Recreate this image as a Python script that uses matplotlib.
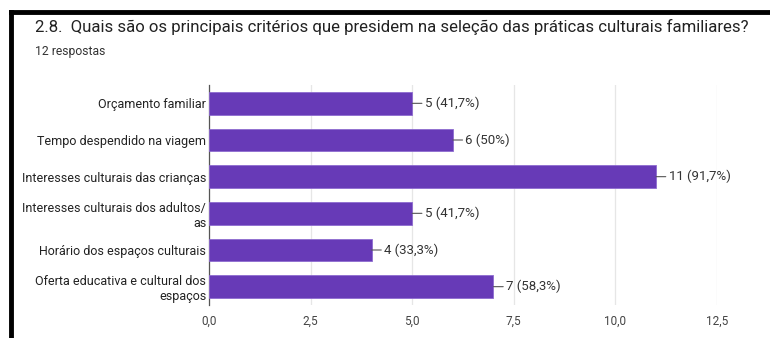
import matplotlib
matplotlib.use("Agg")
from matplotlib import pyplot as plt
from matplotlib.lines import Line2D
from matplotlib.ticker import FuncFormatter

plt.rcParams["font.family"] = ["Roboto", "DejaVu Sans"]

title = "2.8.  Quais são os principais critérios que presidem na seleção das práticas culturais familiares?"
subtitle = "12 respostas"
categories = [
    "Orçamento familiar",
    "Tempo despendido na viagem",
    "Interesses culturais das crianças",
    "Interesses culturais dos adultos/\nas",
    "Horário dos espaços culturais",
    "Oferta educativa e cultural dos\nespaços",
]
counts = [5, 6, 11, 5, 4, 7]
labels = ["5 (41,7%)", "6 (50%)", "11 (91,7%)", "5 (41,7%)", "4 (33,3%)", "7 (58,3%)"]
ticks = [0, 2.5, 5, 7.5, 10, 12.5]

fig = plt.figure(figsize=(7.7, 3.38), dpi=100)
ax = fig.add_axes([209 / 770, 1 - 305 / 338, (717 - 209) / 770, (305 - 85) / 338])

y = list(range(len(categories)))
ax.barh(y, counts, height=0.62, color="#673ab7", edgecolor="#8e6bd0", linewidth=0.6, zorder=3)
ax.set_ylim(len(categories) - 0.5, -0.5)
ax.set_xlim(0, 12.5)
ax.set_xticks(ticks)
ax.xaxis.set_major_formatter(FuncFormatter(lambda v, p: f"{v:.1f}".replace(".", ",")))
ax.set_yticks(y)
ax.set_yticklabels(categories, fontsize=9, color="#222222")
ax.tick_params(axis="x", length=0, labelsize=8.5, labelcolor="#444444", pad=7)
ax.tick_params(axis="y", length=0, pad=2)
ax.grid(axis="x", color="#e6e6e6", linewidth=0.9, zorder=0)
for s in ["top", "right", "bottom"]:
    ax.spines[s].set_visible(False)
ax.spines["left"].set_color("#555555")
ax.spines["left"].set_linewidth(0.9)

for yi, c, lab in zip(y, counts, labels):
    ax.annotate(lab, xy=(c, yi), xytext=(9, 0), textcoords="offset points",
                va="center", ha="left", fontsize=9.5, color="#333333",
                arrowprops=dict(arrowstyle="-", color="#555555", lw=0.8,
                                shrinkA=0, shrinkB=0))

fig.text(35 / 770, 1 - 27 / 338, title, fontsize=12.1, color="#222222", va="center")
fig.text(35 / 770, 1 - 52 / 338, subtitle, fontsize=8.7, color="#333333", va="center")

# black frame of the screenshot
fig.add_artist(Line2D([10.5 / 770, 10.5 / 770], [0, 1 - 12 / 338], transform=fig.transFigure, color="black", lw=3.5))
fig.add_artist(Line2D([10.5 / 770, 1], [1 - 12 / 338, 1 - 12 / 338], transform=fig.transFigure, color="black", lw=3.5))

fig.savefig("out.png", dpi=100)
